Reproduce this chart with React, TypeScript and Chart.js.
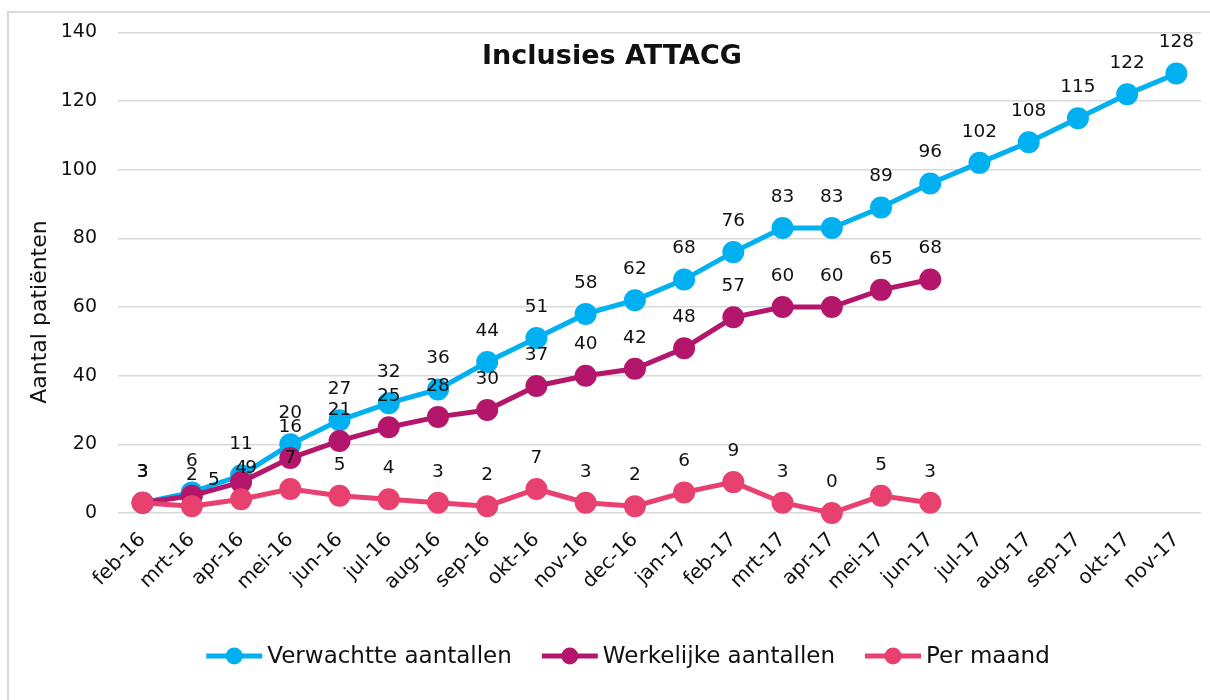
import React, { useEffect, useRef } from "react";
import { Chart, registerables } from "chart.js";

Chart.register(...registerables);

const months = [
  "feb-16", "mrt-16", "apr-16", "mei-16", "jun-16", "jul-16", "aug-16", "sep-16",
  "okt-16", "nov-16", "dec-16", "jan-17", "feb-17", "mrt-17", "apr-17", "mei-17",
  "jun-17", "jul-17", "aug-17", "sep-17", "okt-17", "nov-17",
];
const verwachtte = [3, 6, 11, 20, 27, 32, 36, 44, 51, 58, 62, 68, 76, 83, 83, 89, 96, 102, 108, 115, 122, 128];
const werkelijke = [3, 5, 9, 16, 21, 25, 28, 30, 37, 40, 42, 48, 57, 60, 60, 65, 68];
const perMaand = [3, 2, 4, 7, 5, 4, 3, 2, 7, 3, 2, 6, 9, 3, 0, 5, 3];
const seriesNames = ["Verwachtte aantallen", "Werkelijke aantallen", "Per maand"];
const seriesColors = ["#00B0F0", "#B3166B", "#E8416F"];
const yMin = 0;
const yMax = 140;
const yStep = 20;
const chartTitle = "Inclusies ATTACG";
const yTitle = "Aantal patiënten";

const FONT = "'DejaVu Sans', sans-serif";
const TEXT = "#111111";

// manual label nudges (dataset index -> point index -> [dx, dy])
const labelNudge: Record<number, Record<number, [number, number]>> = {
  1: { 1: [22, 15], 2: [10, 17] },
};

const decor = {
  id: "decor",
  beforeDraw(chart: any) {
    const ctx = chart.ctx;
    ctx.save();
    ctx.fillStyle = "#ffffff";
    ctx.fillRect(0, 0, chart.width, chart.height);
    ctx.strokeStyle = "#d9d9d9";
    ctx.lineWidth = 2;
    ctx.strokeRect(8, 12, chart.width + 100, chart.height + 100);
    ctx.restore();
  },
  afterDatasetsDraw(chart: any) {
    const ctx = chart.ctx;
    ctx.save();
    // data labels
    ctx.fillStyle = TEXT;
    ctx.font = `18.5px ${FONT}`;
    ctx.textAlign = "center";
    ctx.textBaseline = "middle";
    chart.data.datasets.forEach((ds: any, i: number) => {
      const meta = chart.getDatasetMeta(i);
      meta.data.forEach((pt: any, j: number) => {
        const v = ds.data[j];
        if (v === null || v === undefined) return;
        let dx = 0;
        let dy = -31;
        const n = labelNudge[i] && labelNudge[i][j];
        if (n) {
          dx += n[0];
          dy += n[1];
        }
        ctx.fillText(String(v), pt.x + dx, pt.y + dy);
      });
    });
    // title
    ctx.font = `bold 27px ${FONT}`;
    ctx.fillText(chartTitle, 612, 57);
    // y axis title
    ctx.save();
    ctx.translate(40, 312);
    ctx.rotate(-Math.PI / 2);
    ctx.font = `22px ${FONT}`;
    ctx.fillText(yTitle, 0, 0);
    ctx.restore();
    // legend
    ctx.font = `23px ${FONT}`;
    const markerW = 56;
    const gapText = 5;
    const gapItem = 30;
    const widths = seriesNames.map((s) => ctx.measureText(s).width);
    const total = widths.reduce((a, w) => a + markerW + gapText + w, 0) + gapItem * (seriesNames.length - 1);
    let x = 628 - total / 2;
    const y = 656;
    ctx.textAlign = "left";
    seriesNames.forEach((s, i) => {
      ctx.strokeStyle = seriesColors[i];
      ctx.lineWidth = 5;
      ctx.beginPath();
      ctx.moveTo(x, y);
      ctx.lineTo(x + markerW, y);
      ctx.stroke();
      ctx.fillStyle = seriesColors[i];
      ctx.beginPath();
      ctx.arc(x + markerW / 2, y, 8.5, 0, Math.PI * 2);
      ctx.fill();
      ctx.fillStyle = TEXT;
      ctx.fillText(s, x + markerW + gapText, y + 1);
      x += markerW + gapText + widths[i] + gapItem;
    });
    ctx.restore();
  },
};

export default function App() {
  const ref = useRef<HTMLCanvasElement | null>(null);
  useEffect(() => {
    if (!ref.current) return;
    const mk = (i: number, data: number[], order: number) => ({
      label: seriesNames[i],
      data,
      borderColor: seriesColors[i],
      backgroundColor: seriesColors[i],
      pointBackgroundColor: seriesColors[i],
      pointBorderColor: seriesColors[i],
      borderWidth: 5,
      pointRadius: 8.5,
      pointHoverRadius: 8.5,
      tension: 0,
      clip: false as any,
      order,
    });
    const chart = new Chart(ref.current, {
      type: "line",
      data: {
        labels: months,
        datasets: [mk(0, verwachtte, 2), mk(1, werkelijke, 1), mk(2, perMaand, 0)],
      },
      options: {
        animation: false,
        responsive: false,
        maintainAspectRatio: false,
        devicePixelRatio: 1,
        layout: { autoPadding: false, padding: { left: 0, right: 9, top: 30, bottom: 0 } },
        plugins: { legend: { display: false }, tooltip: { enabled: false }, title: { display: false } },
        scales: {
          x: {
            offset: true,
            grid: { display: false },
            border: { display: false },
            ticks: {
              autoSkip: false,
              maxRotation: 45,
              minRotation: 45,
              color: TEXT,
              padding: 7,
              font: { family: FONT, size: 20 },
            },
            afterFit(scale: any) {
              scale.height = 187;
              scale.paddingRight = 0;
            },
          },
          y: {
            min: yMin,
            max: yMax,
            grid: { color: "#d9d9d9", lineWidth: 1.5, drawTicks: false },
            border: { display: false },
            ticks: {
              stepSize: yStep,
              padding: 21,
              color: TEXT,
              font: { family: FONT, size: 19 },
            },
            afterFit(scale: any) {
              scale.width = 118;
            },
          },
        },
      },
      plugins: [decor],
    });
    return () => chart.destroy();
  }, []);
  return (
    <div style={{ position: "absolute", left: 0, top: 0, width: 1210, height: 700 }}>
      <canvas ref={ref} width={1210} height={700} style={{ width: 1210, height: 700, display: "block" }} />
    </div>
  );
}
